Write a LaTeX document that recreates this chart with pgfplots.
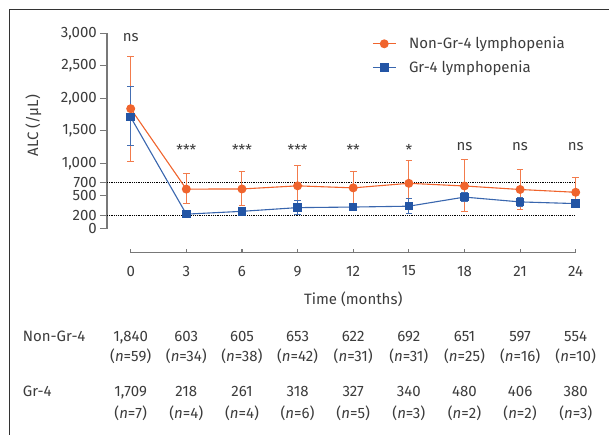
\documentclass[border=0pt]{standalone}
\usepackage{pgfplots}
\pgfplotsset{compat=1.18}
\usepackage{fontspec}
\setmainfont{Fira Sans}
\definecolor{org}{RGB}{240,100,45}
\definecolor{blu}{RGB}{35,85,165}
\definecolor{txt}{RGB}{60,60,60}
\definecolor{axc}{RGB}{120,120,120}
\newcommand{\fs}{\fontsize{15bp}{18bp}\selectfont}
\pgfplotsset{
 common/.style={
  scale only axis, height=195bp,
  ymin=0, ymax=3000,
  clip=false,
  axis line style={axc, line width=1.1bp},
  tick style={axc, line width=1.1bp},
  tick label style={font=\fs, text=txt},
  label style={font=\fs, text=txt},
  /pgf/number format/assume math mode=true,
 },
 yax/.style={axc, line width=1.1bp, forget plot, mark=none},
}
\begin{document}
\begin{tikzpicture}
\useasboundingbox (0,0) rectangle (609bp,435bp);
\draw[black!80, line width=0.8bp] (9.5bp,0) -- (9.5bp,425.5bp) -- (609bp,425.5bp);

% y tick labels and title
\begin{axis}[common, axis lines*=left, width=1bp, xmin=0, xmax=1,
  at={(107bp,206.7bp)}, anchor=south west,
  xtick=\empty,
  ytick={0,200,500,700,1000,1500,2000,2500,3000},
  yticklabels={0,200,500,700,{1,000},{1,500},{2,000},{2,500},{3,000}},
  tick align=outside, major tick length=7bp,
  yticklabel style={inner sep=0pt, anchor=east, xshift=-3bp},
  ylabel={ALC (/μL)},
  ylabel style={at={(axis description cs:-73.5,0.527)}, anchor=center},
]
\end{axis}

% x axis
\begin{axis}[common, axis lines*=left, width=445bp, xmin=0, xmax=24,
  at={(130.7bp,206.7bp)}, anchor=south west,
  y axis line style={draw=none}, ytick=\empty,
  axis x line shift=24.4bp,
  xtick={0,3,...,24}, tick align=inside, major tick length=3.5bp,
  xticklabel style={inner sep=0pt, anchor=north, yshift=-13bp},
  xlabel={Time (months)},
  xlabel style={at={(axis description cs:0.5,-0.3627)}, anchor=center},
]
\end{axis}

% data
\begin{axis}[common, hide axis, width=468.7bp, xmin=-1.278, xmax=24,
  at={(107bp,206.7bp)}, anchor=south west,
  legend style={draw=none, fill=none, font=\fs, text=txt, inner sep=0pt,
    at={(axis description cs:0.5654,0.981)}, anchor=north west,
    row sep=10.5bp, nodes={inner sep=0pt}},
  legend cell align=left,
  /tikz/every odd column/.style={column sep=12.7bp},
  legend image code/.code={\draw[mark repeat=2,mark phase=2,#1] plot coordinates {(0bp,0bp) (11.5bp,0bp) (23bp,0bp)};},
]
% y axis line and ticks
\addplot[yax] coordinates {(-1.278,0) (-1.278,3000)};
\addplot[yax] coordinates {(-1.6555,0) (-1.278,0)};
\addplot[yax] coordinates {(-1.6555,200) (-1.278,200)};
\addplot[yax] coordinates {(-1.6555,500) (-1.278,500)};
\addplot[yax] coordinates {(-1.6555,700) (-1.278,700)};
\addplot[yax] coordinates {(-1.6555,1000) (-1.278,1000)};
\addplot[yax] coordinates {(-1.6555,1500) (-1.278,1500)};
\addplot[yax] coordinates {(-1.6555,2000) (-1.278,2000)};
\addplot[yax] coordinates {(-1.6555,2500) (-1.278,2500)};
\addplot[yax] coordinates {(-1.6555,3000) (-1.278,3000)};

\addplot[black, densely dotted, line width=0.8bp, forget plot] coordinates {(-1.278,700) (24,700)};
\addplot[black, densely dotted, line width=0.8bp, forget plot] coordinates {(-1.278,200) (24,200)};

\addplot[org, line width=1.1bp, mark=*, mark size=3.9bp, mark options={solid, fill=org, draw=org},
  error bars/.cd, y dir=both, y explicit, error mark=-,
  error bar style={org!85, line width=1bp},
  error mark options={rotate=90, org!85, mark size=3.3bp, line width=1bp}]
coordinates {
(0,1840) += (0,810) -= (0,815)
(3,603) += (0,243) -= (0,229)
(6,605) += (0,266) -= (0,257)
(9,653) += (0,310) -= (0,310)
(12,622) += (0,255) -= (0,237)
(15,692) += (0,348) -= (0,348)
(18,651) += (0,410) -= (0,400)
(21,597) += (0,308) -= (0,315)
(24,554) += (0,231) -= (0,221)
};
\addlegendentry{Non-Gr-4 lymphopenia}

\addplot[blu!90, line width=1.1bp, mark=square*, mark size=3.7bp, mark options={solid, fill=blu, draw=blu},
  error bars/.cd, y dir=both, y explicit, error mark=-,
  error bar style={blu!85, line width=1bp},
  error mark options={rotate=90, blu!85, mark size=3.3bp, line width=1bp}]
coordinates {
(0,1709) += (0,470) -= (0,438)
(3,218) += (0,25) -= (0,25)
(6,261) += (0,35) -= (0,35)
(9,318) += (0,117) -= (0,113)
(12,327) += (0,55) -= (0,55)
(15,340) += (0,126) -= (0,120)
(18,480) += (0,65) -= (0,65)
(21,406) += (0,65) -= (0,65)
(24,380) += (0,30) -= (0,30)
};
\addlegendentry{Gr-4 lymphopenia}

\node[font=\fs, text=txt] at (axis cs:0,2930) {ns};
\node[font=\fs, text=txt] at (axis cs:3,1205) {***};
\node[font=\fs, text=txt] at (axis cs:6,1205) {***};
\node[font=\fs, text=txt] at (axis cs:9,1205) {***};
\node[font=\fs, text=txt] at (axis cs:12,1205) {**};
\node[font=\fs, text=txt] at (axis cs:15,1205) {*};
\node[font=\fs, text=txt] at (axis cs:18,1250) {ns};
\node[font=\fs, text=txt] at (axis cs:21,1250) {ns};
\node[font=\fs, text=txt] at (axis cs:24,1250) {ns};
\end{axis}

% table
\node[font=\fs, text=txt, anchor=base west, inner sep=0pt] at (22.7bp,93.5bp) {Non-Gr-4};
\node[font=\fs, text=txt, anchor=base west, inner sep=0pt] at (22.7bp,38.5bp) {Gr-4};
\foreach \v/\n [count=\i from 0] in {{1,840}/59, 603/34, 605/38, 653/42, 622/31, 692/31, 651/25, 597/16, 554/10} {
  \node[font=\fs, text=txt, anchor=base, inner sep=0pt] at ({130.7bp+\i*55.625bp},93.5bp) {\v};
  \node[font=\fs, text=txt, anchor=base, inner sep=0pt] at ({130.7bp+\i*55.625bp},73.5bp) {(\textit{n}=\n)};
}
\foreach \v/\n [count=\i from 0] in {{1,709}/7, 218/4, 261/4, 318/6, 327/5, 340/3, 480/2, 406/2, 380/3} {
  \node[font=\fs, text=txt, anchor=base, inner sep=0pt] at ({130.7bp+\i*55.625bp},38.5bp) {\v};
  \node[font=\fs, text=txt, anchor=base, inner sep=0pt] at ({130.7bp+\i*55.625bp},17bp) {(\textit{n}=\n)};
}
\end{tikzpicture}
\end{document}
